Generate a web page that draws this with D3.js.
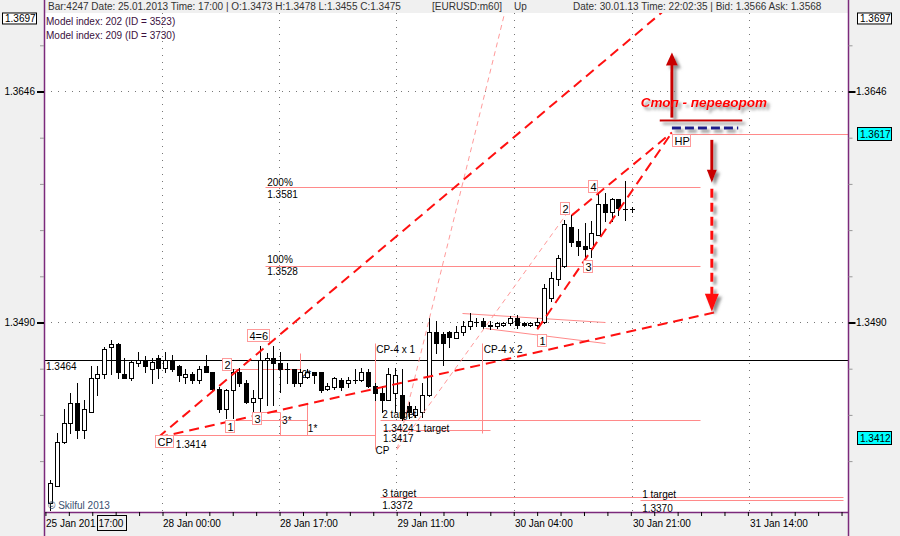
<!DOCTYPE html>
<html><head><meta charset="utf-8">
<script src="https://cdn.jsdelivr.net/npm/d3@7"></script>
<style>body{margin:0;background:#f0f0f0} svg{display:block} text{font-family:"Liberation Sans",Arial,sans-serif;}</style>
</head><body><svg id="c" width="900" height="536"></svg>
<script>
// ---------- DATA ----------
// hourly EURUSD candles [open, high, low, close], first visible bar = 25 Jan 08:00
const candles = [
[1.3368,1.3383,1.3363,1.3381],[1.3379,1.3415,1.3379,1.3409],[1.3409,1.3431,1.3408,1.3422],[1.3422,1.3442,1.3415,1.3435],
[1.3435,1.3449,1.3412,1.3417],[1.3417,1.3437,1.3412,1.3431],[1.3429,1.3460,1.3429,1.3452],[1.3452,1.3460,1.3441,1.3455],
[1.3455,1.3473,1.3452,1.3472],[1.3473,1.3478,1.3455,1.3475],[1.3475,1.3476,1.3452,1.3456],[1.3455,1.3466,1.3452,1.3452],
[1.3452,1.3464,1.3451,1.3463],[1.3462,1.3470,1.3460,1.3464],[1.3464,1.3467,1.3456,1.3460],[1.3458,1.3466,1.3449,1.3463],
[1.3466,1.3468,1.3452,1.3459],[1.3459,1.3470,1.3456,1.3464],[1.3464,1.3468,1.3457,1.3458],[1.3460,1.3461,1.3450,1.3454],
[1.3453,1.3458,1.3449,1.3455],[1.3455,1.3456,1.3449,1.3451],[1.3451,1.3460,1.3449,1.3458],[1.3460,1.3468,1.3456,1.3456],
[1.3456,1.3456,1.3444,1.3445],[1.3445,1.3446,1.3429,1.3431],[1.3431,1.3445,1.3425,1.3444],[1.3444,1.3458,1.3425,1.3456],
[1.3456,1.3459,1.3447,1.3449],[1.3449,1.3451,1.3435,1.3436],[1.3436,1.3444,1.3429,1.3439],[1.3439,1.3474,1.3429,1.3464],
[1.3464,1.3469,1.3434,1.3466],[1.3466,1.3474,1.3434,1.3462],[1.3462,1.3470,1.3443,1.3458],[1.3458,1.3462,1.3449,1.3458],
[1.3458,1.3458,1.3447,1.3449],[1.3449,1.3458,1.3447,1.3456],[1.3453,1.3458,1.3452,1.3456],[1.3456,1.3456,1.3449,1.3454],
[1.3456,1.3456,1.3443,1.3444],[1.3445,1.3449,1.3444,1.3447],[1.3446,1.3453,1.3445,1.3452],[1.3451,1.3452,1.3444,1.3446],
[1.3449,1.3453,1.3446,1.3451],[1.3451,1.3458,1.3449,1.3451],[1.3451,1.3459,1.3450,1.3456],[1.3456,1.3458,1.3446,1.3447],
[1.3447,1.3449,1.3437,1.3442],[1.3442,1.3447,1.3429,1.3437],[1.3437,1.3459,1.3437,1.3455],[1.3442,1.3459,1.3429,1.3454],
[1.3441,1.3458,1.3424,1.3425],[1.3433,1.3436,1.3425,1.3429],[1.3427,1.3433,1.3426,1.3431],[1.3429,1.3449,1.3426,1.3441],
[1.3441,1.3493,1.3440,1.3483],[1.3483,1.3491,1.3469,1.3476],[1.3482,1.3483,1.3461,1.3476],[1.3483,1.3484,1.3473,1.3480],
[1.3479,1.3487,1.3479,1.3483],[1.3483,1.3491,1.3481,1.3487],[1.3487,1.3496,1.3485,1.3491],[1.3490,1.3493,1.3487,1.3490],
[1.3491,1.3493,1.3486,1.3487],[1.3487,1.3491,1.3485,1.3488],[1.3487,1.3490,1.3486,1.3489],[1.3488,1.3490,1.3487,1.3489],
[1.3489,1.3494,1.3488,1.3493],[1.3493,1.3495,1.3486,1.3488],[1.3489,1.3490,1.3487,1.3488],[1.3488,1.3490,1.3487,1.3489],
[1.3488,1.3493,1.3486,1.3490],[1.3490,1.3516,1.3489,1.3513],[1.3506,1.3524,1.3504,1.3520],[1.3519,1.3535,1.3515,1.3533],
[1.3528,1.3559,1.3527,1.3556],[1.3554,1.3562,1.3541,1.3544],[1.3545,1.3553,1.3535,1.3541],[1.3541,1.3557,1.3533,1.3539],
[1.3540,1.3558,1.3534,1.3550],[1.3549,1.3577,1.3549,1.3570],[1.3570,1.3577,1.3558,1.3564],[1.3564,1.3574,1.3558,1.3573],
[1.3573,1.3573,1.3562,1.3567],[1.3566,1.3585,1.3559,1.3566],[1.3566,1.3568,1.3564,1.3566]
];
// time axis labels at bar positions
const timeLabels = ["28 Jan 00:00","28 Jan 17:00","29 Jan 11:00","30 Jan 04:00","30 Jan 21:00","31 Jan 14:00"];
const timeLabelIdx = [16.55,33.85,51.2,68.55,86.0,103.3];
const cursorLabel = {date:"25 Jan 201", time:"17:00", idx:9};
// price axis
const priceMajor = [1.3646,1.3490];
const priceMinorStep = 0.00312;
const priceTop = 1.3697;
const markerPrices = [{p:1.3617,fill:"#00ffff"},{p:1.3412,fill:"#00ffff"}];
const levelLine = 1.3464;
// model drawing (bar index, price)
const pinkSegs = [
 [31.8,1.3581,96.0,1.3581],[31.8,1.3528,96.0,1.3528],[94.3,1.3617,117.9,1.3617],
 [48.8,1.3424,96.0,1.3424],[49.2,1.3417,65.0,1.3417],[48.8,1.3372,117.2,1.3372],[87.2,1.3370,117.2,1.3370],
 [15.5,1.3414,48.0,1.3414],[48.0,1.3476,48.0,1.3404],[63.8,1.3476,63.8,1.3415],
 [26.6,1.3424,38.0,1.3424],[38.0,1.3435,38.0,1.3414],[30.0,1.3429,34.0,1.3429],[34.0,1.3429,34.0,1.3414],
 [26.9,1.3458,36.9,1.3458],[36.9,1.3469,36.9,1.3458],
 [60.9,1.3496,82.0,1.3490],[64.3,1.3486,82.0,1.3476]
];
const redDashed = [
 [15.96,1.3412,90.4,1.3699],[15.96,1.3412,98.7,1.3497],[72.0,1.3485,91.9,1.3618],[77.1,1.3562,91.9,1.3618]
];
const pinkDashed = [[51.3,1.3404,67.2,1.3699],[51.3,1.3404,76.5,1.3564]];
const boxLabels = [
 ["CP",15.5,1.3414],["2",25.4,1.3466],["1",25.9,1.3424],["3",29.85,1.3429],["4=6",29.1,1.3485],
 ["1",72.0,1.3482],["2",75.4,1.3571],["3",78.8,1.3532],["4",79.5,1.3586],["HP",91.9,1.3617]
];
const plainLabels = [
 ["1.3414",18.6,1.3405],["200%",32.1,1.3582],["1.3581",32.1,1.3574],["100%",32.1,1.3530],["1.3528",32.1,1.3522],
 ["CP-4 x 1",48.2,1.3469],["CP-4 x 2",64.1,1.3469],["2 target",49.1,1.3425],["1.3424",49.2,1.3416],["1 target",54.0,1.3416],
 ["1.3417",49.2,1.3409],["CP",48.1,1.3401],["3 target",49.1,1.3372],["1.3372",49.1,1.3364],
 ["1 target",87.5,1.3371],["1.3370",87.5,1.3362],["3*",34.3,1.3421],["1*",38.1,1.3416],["2*",37.2,1.3452]
];
const signalText = {text:"Стоп - переворот", idx:87.3, p:1.3635};
const upArrow = {idx:91.9, from:1.3628, to:1.3672};
const stopLine = [90.1,102.3,1.3626];
const hpDash = [91.9,101.7,1.3621];
const downSolid = {idx:97.8, from:1.3613, to:1.3584};
const downDashed = {idx:97.8, from:1.3580, to:1.3497};
const headerLeft = "Bar:4247 Date: 25.01.2013 Time: 17:00 | O:1.3473 H:1.3478 L:1.3455 C:1.3475";
const headerSym = "[EURUSD:m60]", headerDir = "Up";
const headerRight = "Date: 30.01.13 Time: 22:02:35 | Bid: 1.3566 Ask: 1.3568";
const modelLines = ["Model index: 202  (ID = 3523)","Model index: 209  (ID = 3730)"];
const copyright = "© Skilful 2013";

// ---------- DRAW ----------
const W=900,H=536, P={l:44,r:848,t:13,b:512};
const svg=d3.select('#c');
const x=d3.scaleLinear().domain([0,86]).range([50,632]);
const y=d3.scaleLinear().domain([1.3490,1.3646]).range([322,91]);
const defs=svg.append('defs');
defs.append('clipPath').attr('id','clip').append('rect').attr('x',P.l).attr('y',P.t).attr('width',P.r-P.l).attr('height',P.b-P.t);
const f=defs.append('filter').attr('id','sh').attr('x','-30%').attr('y','-30%').attr('width','160%').attr('height','160%');
f.append('feDropShadow').attr('dx',3).attr('dy',3).attr('stdDeviation',1.6).attr('flood-color','#7a7a7a').attr('flood-opacity',0.85);

svg.append('rect').attr('width',W).attr('height',H).attr('fill','#f0f0f0');
svg.append('rect').attr('x',P.l).attr('y',P.t).attr('width',P.r-P.l).attr('height',P.b-P.t).attr('fill','#fff');
const g=svg.append('g').attr('clip-path','url(#clip)');
const cx=i=>Math.round(x(i))+0.5, cy=p=>Math.round(y(p))+0.5;

// grid
g.selectAll('.hg').data(priceMajor).join('line').attr('x1',P.l).attr('x2',P.r).attr('y1',d=>cy(d)).attr('y2',d=>cy(d))
 .attr('stroke','#777').attr('stroke-dasharray','1,6');
g.selectAll('.vg').data(timeLabelIdx).join('line').attr('x1',d=>cx(d)).attr('x2',d=>cx(d)).attr('y1',P.t).attr('y2',P.b)
 .attr('stroke','#777').attr('stroke-dasharray','1,6');
// level line
g.append('line').attr('x1',P.l).attr('x2',P.r).attr('y1',cy(levelLine)).attr('y2',cy(levelLine)).attr('stroke','#000');
g.append('text').attr('x',P.l+2).attr('y',cy(levelLine)+9).attr('font-size',10).attr('fill','#000').text(levelLine.toFixed(4));

// pink segments
g.selectAll('.ps').data(pinkSegs).join('line').attr('x1',d=>cx(d[0])).attr('y1',d=>cy(d[1])).attr('x2',d=>cx(d[2])).attr('y2',d=>cy(d[3]))
 .attr('stroke','#ff8a8a').attr('stroke-width',1);
// candles
const cg=g.append('g');
candles.forEach((c,i)=>{
  const [o,h,l,cl]=c, xi=cx(i);
  cg.append('line').attr('x1',xi).attr('x2',xi).attr('y1',Math.round(y(h))).attr('y2',Math.round(y(l))+1).attr('stroke','#000');
  const top=Math.round(y(Math.max(o,cl))), bot=Math.round(y(Math.min(o,cl)));
  cg.append('rect').attr('x',xi-2).attr('y',top+0.5).attr('width',4).attr('height',Math.max(bot-top,0.01))
    .attr('fill',cl>=o?'#fff':'#000').attr('stroke','#000');
});
// dashed model lines
g.selectAll('.pd').data(pinkDashed).join('line').attr('x1',d=>x(d[0])).attr('y1',d=>y(d[1])).attr('x2',d=>x(d[2])).attr('y2',d=>y(d[3]))
 .attr('stroke','#ff9a9a').attr('stroke-width',1).attr('stroke-dasharray','5,4');
g.selectAll('.rd').data(redDashed).join('line').attr('x1',d=>x(d[0])).attr('y1',d=>y(d[1])).attr('x2',d=>x(d[2])).attr('y2',d=>y(d[3]))
 .attr('stroke','#ff1010').attr('stroke-width',2).attr('stroke-dasharray','10,6');
// plain labels
g.selectAll('.pl').data(plainLabels).join('text').attr('x',d=>x(d[1])).attr('y',d=>y(d[2])).attr('font-size',10).attr('fill','#000').text(d=>d[0]);
// box labels
boxLabels.forEach(b=>{
  const bx=Math.round(x(b[1]))+0.5, by=Math.round(y(b[2]))+0.5;
  const t=g.append('text').attr('x',bx+2).attr('y',by+10).attr('font-size',11).attr('fill','#000').text(b[0]);
  const w=t.node().getComputedTextLength();
  g.insert('rect','text:last-child').attr('x',bx).attr('y',by).attr('width',Math.round(w)+3).attr('height',12)
   .attr('fill','#fff').attr('stroke','#ff9a9a');
  t.raise();
});
// signal drawing
const sg=g.append('g').attr('filter','url(#sh)');
sg.append('line').attr('x1',x(stopLine[0])).attr('x2',x(stopLine[1])).attr('y1',y(stopLine[2])).attr('y2',y(stopLine[2])).attr('stroke','#c80000').attr('stroke-width',2);
sg.append('line').attr('x1',x(hpDash[0])).attr('x2',x(hpDash[1])).attr('y1',y(hpDash[2])).attr('y2',y(hpDash[2])).attr('stroke','#1a1a8c').attr('stroke-width',3).attr('stroke-dasharray','9,4');
const ax=x(upArrow.idx), ay0=y(upArrow.from), ay1=y(upArrow.to);
sg.append('line').attr('x1',ax).attr('x2',ax).attr('y1',ay0).attr('y2',ay1+12).attr('stroke','#c80000').attr('stroke-width',3);
sg.append('path').attr('d',`M${ax-6},${ay1+13}L${ax+6},${ay1+13}L${ax},${ay1}Z`).attr('fill','#c80000');
const dx=x(downSolid.idx);
sg.append('line').attr('x1',dx).attr('x2',dx).attr('y1',y(downSolid.from)).attr('y2',y(downSolid.to)-12).attr('stroke','#c80000').attr('stroke-width',3);
sg.append('path').attr('d',`M${dx-5},${y(downSolid.to)-13}L${dx+5},${y(downSolid.to)-13}L${dx},${y(downSolid.to)}Z`).attr('fill','#c80000');
sg.append('line').attr('x1',dx).attr('x2',dx).attr('y1',y(downDashed.from)).attr('y2',y(downDashed.to)-16).attr('stroke','#ff1010').attr('stroke-width',3).attr('stroke-dasharray','9,5');
sg.append('path').attr('d',`M${dx-7},${y(downDashed.to)-18}L${dx+7},${y(downDashed.to)-18}L${dx},${y(downDashed.to)}Z`).attr('fill','#ff1010');
sg.append('text').attr('x',x(signalText.idx)).attr('y',y(signalText.p)).attr('font-size',13.5).attr('font-weight','bold').attr('font-style','italic')
 .attr('fill','#ff0000').text(signalText.text);

// copyright & model text
g.append('text').attr('x',48).attr('y',509).attr('font-size',10).attr('fill','#3a5070').text(copyright);
svg.selectAll('.ml').data(modelLines).join('text').attr('x',46).attr('y',(d,i)=>25+i*14).attr('font-size',10).attr('fill','#3b1040').text(d=>d);

// frame
const purple='#7b2a7b';
svg.append('line').attr('x1',P.l+0.5).attr('x2',P.l+0.5).attr('y1',0).attr('y2',H).attr('stroke',purple).attr('stroke-width',1.5);
svg.append('line').attr('x1',P.r+0.5).attr('x2',P.r+0.5).attr('y1',0).attr('y2',H).attr('stroke',purple).attr('stroke-width',1.5);
svg.append('line').attr('x1',P.l).attr('x2',P.r).attr('y1',P.b+0.5).attr('y2',P.b+0.5).attr('stroke',purple).attr('stroke-width',1.5);

// header
svg.append('text').attr('x',48).attr('y',10).attr('font-size',10).attr('fill','#333').text(headerLeft);
svg.append('text').attr('x',432).attr('y',10).attr('font-size',10).attr('fill','#333').text(headerSym);
svg.append('text').attr('x',514).attr('y',10).attr('font-size',10).attr('fill','#333').text(headerDir);
svg.append('text').attr('x',573).attr('y',10).attr('font-size',10).attr('fill','#333').text(headerRight);

// time axis
const span=(timeLabelIdx[1]-timeLabelIdx[0])/5;
const minorT=d3.range(timeLabelIdx[0]-5*span, 120, span).filter(v=>x(v)>=P.l-0.5 && x(v)<=P.r);
const xa=d3.axisBottom(x).tickValues(minorT).tickSize(4).tickFormat('');
const xag=svg.append('g').attr('transform',`translate(0.5,${P.b})`).call(xa);
xag.select('.domain').remove(); xag.selectAll('line').attr('stroke','#000');
svg.selectAll('.tl').data(timeLabels).join('text').attr('x',(d,i)=>x(timeLabelIdx[i])+1).attr('y',527).attr('font-size',10).attr('fill','#000').text(d=>d);
svg.append('text').attr('x',46).attr('y',527).attr('font-size',10).attr('fill','#000').text(cursorLabel.date);
const clx=x(cursorLabel.idx);
svg.append('rect').attr('x',Math.round(clx-14)+0.5).attr('y',515.5).attr('width',29).attr('height',15).attr('fill','#f0f0f0').attr('stroke','#000');
svg.append('text').attr('x',clx).attr('y',527).attr('text-anchor','middle').attr('font-size',10).attr('fill','#000').text(cursorLabel.time);

// price axes
const minorP=d3.range(-8,8).map(k=>priceMajor[0]+k*priceMinorStep).filter(p=>y(p)>P.t&&y(p)<P.b);
[['R',P.r+0.5,1],['L',P.l,-1]].forEach(([s,px,dir])=>{
  const a=(dir>0?d3.axisRight(y):d3.axisLeft(y)).tickValues(minorP).tickSize(4).tickFormat('');
  const ag=svg.append('g').attr('transform',`translate(${px},0.5)`).call(a);
  ag.select('.domain').remove(); ag.selectAll('line').attr('stroke','#999');
  const am=(dir>0?d3.axisRight(y):d3.axisLeft(y)).tickValues(priceMajor).tickSize(7).tickFormat('');
  const amg=svg.append('g').attr('transform',`translate(${px},0.5)`).call(am);
  amg.select('.domain').remove(); amg.selectAll('line').attr('stroke','#000').attr('stroke-width',2);
  svg.selectAll('.pm'+s).data(priceMajor).join('text').attr('x',dir>0?856:35).attr('text-anchor',dir>0?'start':'end')
    .attr('y',d=>y(d)+4).attr('font-size',10).attr('fill','#000').text(d=>d.toFixed(4));
  const bx=dir>0?857:2;
  svg.append('rect').attr('x',bx+0.5).attr('y',y(priceTop)-3+0.5).attr('width',34).attr('height',11).attr('fill','#fff').attr('stroke','#000');
  svg.append('text').attr('x',bx+3).attr('y',y(priceTop)+7).attr('font-size',10).attr('fill','#000').text(priceTop.toFixed(4));
});
markerPrices.forEach(m=>{
  svg.append('rect').attr('x',857.5).attr('y',Math.round(y(m.p))-6.5).attr('width',34).attr('height',13).attr('fill',m.fill).attr('stroke','#000');
  svg.append('text').attr('x',860).attr('y',y(m.p)+4).attr('font-size',10).attr('fill','#000').text(m.p.toFixed(4));
});
</script></body></html>
